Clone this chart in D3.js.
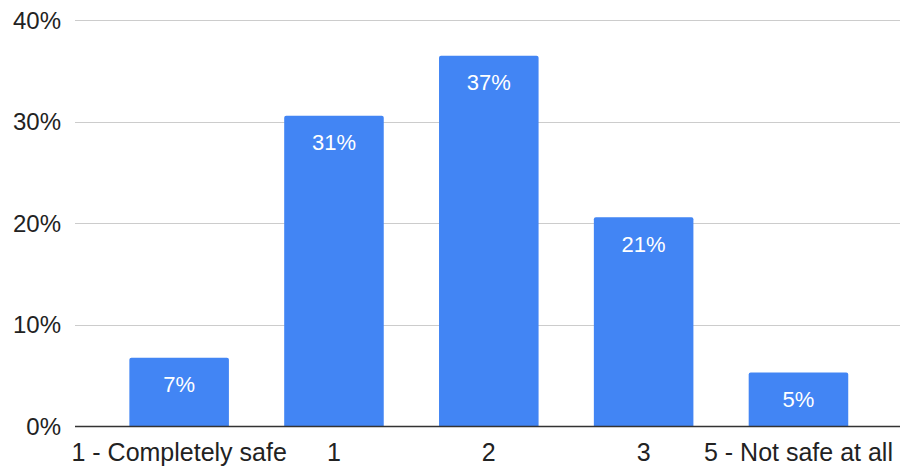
<!DOCTYPE html>
<html>
<head>
<meta charset="utf-8">
<script src="https://cdn.jsdelivr.net/npm/d3@7"></script>
<style>
  html, body { margin: 0; padding: 0; background: #fff; }
  svg { display: block; font-family: "Liberation Sans", Arial, sans-serif; }
</style>
</head>
<body>
<svg id="chart" width="901" height="469"></svg>
<script>
const categories = ["1 - Completely safe", "1", "2", "3", "5 - Not safe at all"];
const values = [0.0676, 0.306, 0.365, 0.206, 0.053];
const labels = ["7%", "31%", "37%", "21%", "5%"];
const yTicks = [0, 0.1, 0.2, 0.3, 0.4];

const svg = d3.select("#chart");
const gridLeft = 75, gridRight = 900;
const y = d3.scaleLinear().domain([0, 0.4]).range([426.3, 20.3]);
const x = d3.scaleBand().domain(categories).range([101.8, 875.8]).paddingInner(0.357).paddingOuter(0.178);

// gridlines
svg.append("g").selectAll("line").data(yTicks.filter(d => d > 0)).join("line")
  .attr("x1", gridLeft).attr("x2", gridRight)
  .attr("y1", d => Math.round(y(d)) + 0.5).attr("y2", d => Math.round(y(d)) + 0.5)
  .attr("stroke", "#cccccc").attr("stroke-width", 1);

// y axis labels
const yAxis = d3.axisLeft(y).tickValues(yTicks).tickFormat(d3.format(".0%")).tickSize(0).tickPadding(0);
const yg = svg.append("g").attr("transform", "translate(61,0)").call(yAxis);
yg.select(".domain").remove();
yg.selectAll("text").attr("font-size", 24).attr("fill", "#222").attr("font-family", "'Liberation Sans', Arial, sans-serif").attr("dy", "0.34em");

// bars
svg.append("g").selectAll("path").data(values).join("path")
  .attr("fill", "#4285f4")
  .attr("d", (d, i) => {
    const x0 = x(categories[i]), w = x.bandwidth();
    const y0 = y(d), y1 = y(0), r = 2;
    return `M${x0},${y1}V${y0 + r}Q${x0},${y0} ${x0 + r},${y0}H${x0 + w - r}Q${x0 + w},${y0} ${x0 + w},${y0 + r}V${y1}Z`;
  });

// value labels
svg.append("g").selectAll("text").data(values).join("text")
  .attr("x", (d, i) => x(categories[i]) + x.bandwidth() / 2)
  .attr("y", d => y(d) + 34.3)
  .attr("text-anchor", "middle")
  .attr("fill", "#ffffff")
  .attr("font-size", 22)
  .text((d, i) => labels[i]);

// baseline
svg.append("line")
  .attr("x1", gridLeft).attr("x2", gridRight)
  .attr("y1", 426.5).attr("y2", 426.5)
  .attr("stroke", "#333333").attr("stroke-width", 1.5);

// x axis labels
const xAxis = d3.axisBottom(x).tickSize(0).tickPadding(0);
const xg = svg.append("g").attr("transform", "translate(0,460.7)").call(xAxis);
xg.select(".domain").remove();
xg.selectAll("text").attr("font-size", 25).attr("fill", "#222").attr("font-family", "'Liberation Sans', Arial, sans-serif").attr("dy", 0);
</script>
</body>
</html>
